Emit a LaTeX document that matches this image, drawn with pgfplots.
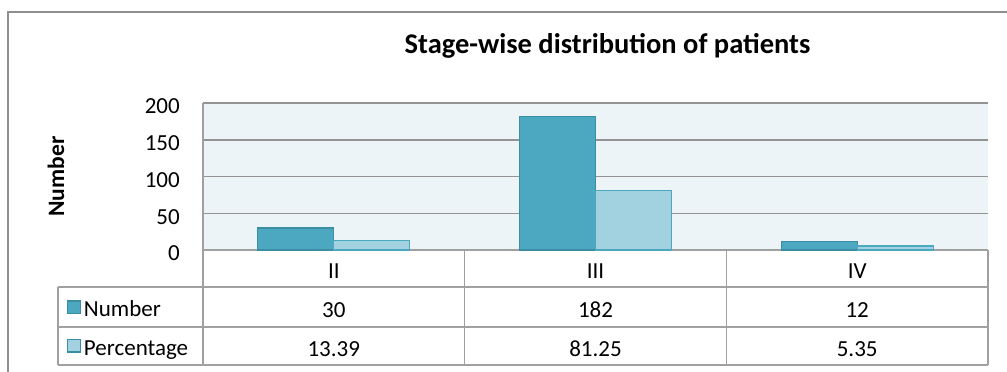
\documentclass[border=0pt]{standalone}
\usepackage{pgfplots}
\pgfplotsset{compat=1.18}
\usepackage{fontspec}
\setmainfont{Carlito}
\definecolor{numfill}{HTML}{4BA8C0}
\definecolor{numedge}{HTML}{3A8DA3}
\definecolor{pctfill}{HTML}{A2D1DF}
\definecolor{pctedge}{HTML}{4BA8C0}
\definecolor{bg}{HTML}{EDF4F7}
\definecolor{gridc}{HTML}{939393}
\definecolor{tabc}{HTML}{A0A0A0}
\definecolor{framec}{HTML}{8E8E8E}
\newcommand\tabfont{\fontsize{23}{27}\selectfont}
\begin{document}
\begin{tikzpicture}
\useasboundingbox (-203pt,-122pt) rectangle (804pt,250pt);
\fill[white] (-203pt,-122pt) rectangle (804pt,250pt);
\draw[framec, line width=2pt] (-195pt,-140pt) -- (-195pt,238pt) -- (820pt,238pt);
\begin{axis}[
  at={(0pt,0pt)}, anchor=south west,
  scale only axis, width=785pt, height=147pt,
  xmin=-0.5, xmax=2.5, ymin=0, ymax=200,
  xtick=\empty, ytick={0,50,...,200},
  ymajorgrids, grid style={gridc, line width=1.5pt},
  axis x line*=bottom, axis y line*=left,
  axis line style={tabc, line width=1.5pt, -},
  axis background/.style={fill=bg},
  major tick length=0pt,
  ybar=0pt, bar width=76pt,
  /pgf/number format/assume math mode=true,
  yticklabel style={font=\tabfont, inner sep=0pt, xshift=-23pt, yshift=-3.5pt, text=black},
  ylabel={Number},
  ylabel style={font=\fontsize{23.5}{28}\selectfont\bfseries, at={([xshift=-147pt]rel axis cs:0,0.5)}, anchor=center},
  title={Stage-wise distribution of patients},
  title style={font=\fontsize{28.5}{33}\selectfont\bfseries, at={(rel axis cs:0,1)}, anchor=base, xshift=404.5pt, yshift=44pt},
  legend style={at={(rel axis cs:0,0)}, anchor=north west, xshift=-136pt, yshift=-50.3pt, draw=none, fill=none, inner sep=0pt, outer sep=0pt, row sep=15.8pt, column sep=3pt, font=\tabfont, nodes={inner sep=0pt, text height=6pt, text depth=6pt}},
  legend cell align=left,
  clip=false,
]
\addplot[fill=numfill, draw=numedge, line width=1.2pt,
  legend image code/.code={\draw[fill=numfill, draw=numedge, line width=1.3pt] (0.65pt,3.3pt) rectangle (13.35pt,16pt);}]
  coordinates {(0,30) (1,182) (2,12)};
\addlegendentry{Number}
\addplot[fill=pctfill, draw=pctedge, line width=1.2pt,
  legend image code/.code={\draw[fill=pctfill, draw=numedge, line width=1.3pt] (0.65pt,3.3pt) rectangle (13.35pt,16pt);}]
  coordinates {(0,13.39) (1,81.25) (2,5.35)};
\addlegendentry{Percentage}
\end{axis}
% data table grid
\draw[tabc, line width=1.5pt]
  (-145pt,-37pt) -- (785pt,-37pt)
  (-145pt,-77pt) -- (785pt,-77pt)
  (-145pt,-115pt) -- (785pt,-115pt)
  (-145pt,-37pt) -- (-145pt,-115pt)
  (0pt,0pt) -- (0pt,-115pt)
  (261.7pt,0pt) -- (261.7pt,-115pt)
  (523.3pt,0pt) -- (523.3pt,-115pt)
  (785pt,0pt) -- (785pt,-115pt);
\begin{scope}[every node/.style={anchor=base, font=\tabfont, inner sep=0pt}]
\node at (130.8pt,-28pt) {II};
\node at (392.5pt,-28pt) {III};
\node at (654.2pt,-28pt) {IV};
\node at (130.8pt,-67pt) {30};
\node at (392.5pt,-67pt) {182};
\node at (654.2pt,-67pt) {12};
\node at (130.8pt,-106pt) {13.39};
\node at (392.5pt,-106pt) {81.25};
\node at (654.2pt,-106pt) {5.35};
\end{scope}
\end{tikzpicture}
\end{document}
